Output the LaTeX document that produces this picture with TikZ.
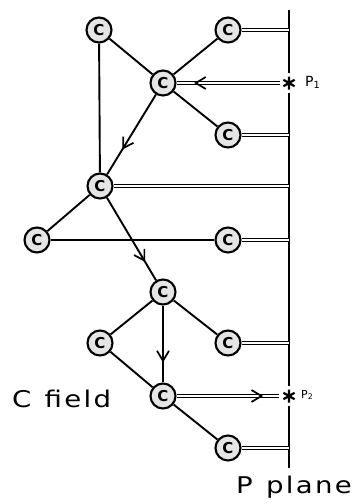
\documentclass[tikz,border=0pt]{standalone}
\usepackage{fontspec}
\setsansfont{DejaVu Sans}
\newfontfamily\labfont[FakeStretch=1.2,LetterSpace=10,WordSpace=1.2]{DejaVu Sans}
\usetikzlibrary{arrows.meta,decorations.markings}
\begin{document}
\begin{tikzpicture}[x=1pt,y=-1pt,
  cnode/.style={circle,draw,line width=2.1pt,fill=gray!20,minimum size=25pt,inner sep=0pt,
    font=\sffamily\bfseries\fontsize{15}{15}\selectfont},
  sline/.style={line width=1.9pt},
  dline/.style={line width=1pt,double,double distance=2.2pt},
  plane/.style={line width=2pt},
  midarrow/.style={postaction={decorate},decoration={markings,
    mark=at position #1 with {\arrow[line width=1.7pt]{Straight Barb[length=10pt,width=12pt]}}}},
  lab/.style={font=\labfont\fontsize{23}{23}\selectfont,inner sep=0pt},
  plab/.style={font=\sffamily\fontsize{14}{14}\selectfont,inner sep=0pt,anchor=west},
  starline/.style={line width=2.2pt}
]
\useasboundingbox (0,0) rectangle (357,504);
% plane coordinates
\coordinate (top) at (289,10);
\coordinate (bot) at (289,468);
\coordinate (s1a) at (289,73);
\coordinate (s1b) at (289,93);
\coordinate (s2a) at (289,386);
\coordinate (s2b) at (289,406);
\coordinate (pB) at (289,30);
\coordinate (pC) at (280,83);
\coordinate (pD) at (289,135);
\coordinate (pE) at (289,186);
\coordinate (pG) at (289,240);
\coordinate (pJ) at (289,343);
\coordinate (pK) at (279,396);
\coordinate (pL) at (289,448);
% star arm ends
\coordinate (s1n) at (289,76.5); \coordinate (s1s) at (289,89.5);
\coordinate (s1ne) at (294.6,79.75); \coordinate (s1sw) at (283.4,86.25);
\coordinate (s1nw) at (283.4,79.75); \coordinate (s1se) at (294.6,86.25);
\coordinate (s2n) at (289,389.5); \coordinate (s2s) at (289,402.5);
\coordinate (s2ne) at (294.6,392.75); \coordinate (s2sw) at (283.4,399.25);
\coordinate (s2nw) at (283.4,392.75); \coordinate (s2se) at (294.6,399.25);
% plane line
\draw[plane] (top) -- (s1a);
\draw[plane] (s1b) -- (s2a);
\draw[plane] (s2b) -- (bot);
% stars
\draw[starline] (s1n) -- (s1s) (s1ne) -- (s1sw) (s1nw) -- (s1se);
\draw[starline] (s2n) -- (s2s) (s2ne) -- (s2sw) (s2nw) -- (s2se);
\node[plab] (p1) at (305,82) {P\textsubscript{1}};
\node[plab,font=\sffamily\fontsize{11}{11}\selectfont] (p2) at (301,395) {P\textsubscript{2}};
% nodes
\node[cnode] (A) at (99,30) {C};
\node[cnode] (B) at (228,30) {C};
\node[cnode] (C) at (163,83) {C};
\node[cnode] (D) at (228,135) {C};
\node[cnode] (E) at (100,186) {C};
\node[cnode] (F) at (37,240) {C};
\node[cnode] (G) at (228,240) {C};
\node[cnode] (H) at (163,292) {C};
\node[cnode] (I) at (100,343) {C};
\node[cnode] (J) at (228,343) {C};
\node[cnode] (K) at (163,396) {C};
\node[cnode] (L) at (228,448) {C};
% single lines
\draw[sline] (A) -- (C);
\draw[sline] (C) -- (B);
\draw[sline] (C) -- (D);
\draw[sline] (A) -- (E);
\draw[sline,midarrow=0.69] (C) -- (E);
\draw[sline] (E) -- (F);
\draw[sline] (F) -- (G);
\draw[sline,midarrow=0.78] (E) -- (H);
\draw[sline] (H) -- (I);
\draw[sline] (H) -- (J);
\draw[sline,midarrow=0.74] (H) -- (K);
\draw[sline] (I) -- (K);
\draw[sline] (K) -- (L);
% double lines
\draw[dline] (B) -- (pB);
\draw[dline] (C) -- (pC);
\draw[dline] (D) -- (pD);
\draw[dline] (E) -- (pE);
\draw[dline] (G) -- (pG);
\draw[dline] (J) -- (pJ);
\draw[dline] (K) -- (pK);
\draw[dline] (L) -- (pL);
\path[midarrow=0.83] (pC) -- (C);
\path[midarrow=0.845] (K) -- (pK);
% labels
\node[lab,anchor=base west] (cf) at (12,407) {C field};
\node[lab,anchor=base west] (pp) at (236,493) {P plane};
\end{tikzpicture}
\end{document}
